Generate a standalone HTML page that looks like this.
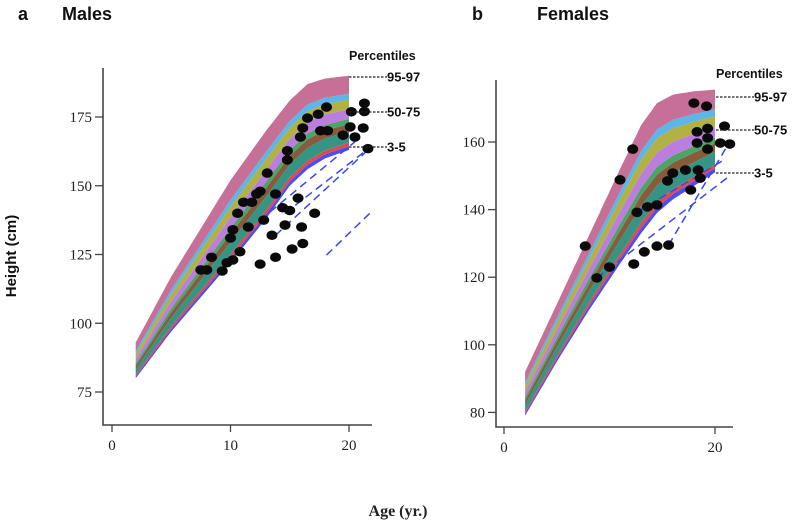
<!DOCTYPE html>
<html><head><meta charset="utf-8"><style>
body{margin:0;background:#fff;width:797px;height:530px;overflow:hidden}
svg{display:block}
.tk{font-family:"Liberation Serif",serif;font-size:15px;fill:#222}
.b{font-family:"Liberation Sans",sans-serif;font-weight:bold;fill:#111}
</style></head><body>
<svg id="chart" width="797" height="530">
<text class="b" x="18" y="20" font-size="18">a</text>
<text class="b" x="62" y="20" font-size="18">Males</text>
<text class="b" x="472" y="20" font-size="18">b</text>
<text class="b" x="537" y="20" font-size="18">Females</text>
<text class="b" x="0" y="0" font-size="15" text-anchor="middle" transform="translate(16,256) rotate(-90)">Height (cm)</text>
<text x="398" y="516" font-family="Liberation Serif,serif" font-weight="bold" font-size="16" text-anchor="middle" fill="#222">Age (yr.)</text>
<g id="pa"></g>
<g id="pb"></g>
</svg>
<script>
// ---- Males data ----
const mAgesCurve=[2,5,8,10,13,15,16.5,18,20];
const mTop=[93,117,138,152,170,181,187,189,190];
const mBottom=[80,97,112,122,138,150,156,160,163];
const mPtAge=[7.5,8,8.4,9.3,9.7,10.2,10.8,10,10.2,10.6,11.1,11.5,11.8,12.2,12.5,13.1,12.8,12.5,13.8,13.8,13.5,14.4,14.6,15,14.8,14.8,15.2,15.7,16,16.1,15.9,16.1,16.5,17.1,17.4,17.6,18.1,18.2,19.5,20.2,20.1,20.5,21.2,21.3,21.3,21.6];
const mPtHeight=[119.4,119.4,124,119,122,123,126,131,134,140,144,135,144,147,148,154.6,137.5,121.5,124,147,132,142,135.7,141,159.4,162.7,127,145.5,135,129,167.7,171,174.6,140,176,170,178.6,170,168.4,176.9,171.4,167.7,171,180,177,163.5];
const mDashA=[[18.1,22],[13.8,21.6],[14.6,21.2],[12.5,20.5]];
const mDashH=[[124.8,141],[132,163],[140,162],[137.5,166]];
const mYTicks=[75,100,125,150,175];
const mXTicks=[0,10,20];
// ---- Females data ----
const fAgesCurve=[2,5,8,11,13,14.5,16,18,20];
const fTop=[92,112,132,152,165,171.5,174,175,175.5];
const fBottom=[79,95,110,124,133,139,143,147,151];
const fPtAge=[7.7,8.8,10,11,12.2,12.3,13.3,14.5,15.6,12.6,13.6,14.5,15.5,16,17.2,17.7,18.4,18.6,18,19.2,18.3,19.3,18.3,19.3,19.3,20.5,21.4,20.9];
const fPtHeight=[129.2,119.8,123,148.8,157.9,123.9,127.5,129.2,129.5,139.2,140.8,141.4,148.5,150.8,151.7,145.8,151.7,149.3,171.5,170.6,163,164,159.7,161.2,157.9,159.7,159.4,164.7];
const fDashA=[[8.8,21.4],[15.6,21],[12.6,21]];
const fDashH=[[119.8,150],[129.5,158],[139.2,155]];
const fYTicks=[80,100,120,140,160];
const fXTicks=[0,20];

const bandFr=[0,0.05,0.1,0.25,0.35,0.42,0.55,0.68,0.76,1];
const bandCol=['#3a3af2','#d63a3a','#1f8a78','#7a4a28','#3a9a58','#b470dc','#a8a832','#4aaee6','#c0608c'];
const NS='http://www.w3.org/2000/svg';
function mk(p,t,a){const e=document.createElementNS(NS,t);for(const k in a)e.setAttribute(k,a[k]);p.appendChild(e);return e;}
function interp(xs,ys,x){for(let i=0;i<xs.length-1;i++){if(x<=xs[i+1]){const t=(x-xs[i])/(xs[i+1]-xs[i]);return ys[i]+t*(ys[i+1]-ys[i]);}}return ys[ys.length-1];}

function panel(g,o){
  const sx=a=>o.x0+(a-0)*o.kx, sy=h=>o.y0-(h-o.h0)*o.ky;
  for(let b=0;b<bandCol.length;b++){
    const up=[],dn=[];
    for(let a=2;a<=20.001;a+=0.25){
      const t=interp(o.ca,o.top,a),bt=interp(o.ca,o.bot,a);
      up.push(sx(a).toFixed(1)+','+sy(bt+(t-bt)*bandFr[b+1]).toFixed(1));
      dn.push(sx(a).toFixed(1)+','+sy(bt+(t-bt)*bandFr[b]).toFixed(1));
    }
    const p=mk(g,'polygon',{points:up.concat(dn.reverse()).join(' '),fill:bandCol[b],opacity:0.9});
    
    
  }
  for(let i=0;i<o.da.length;i++){
    const l=mk(g,'line',{x1:sx(o.da[i][0]),y1:sy(o.dh[i][0]),x2:sx(o.da[i][1]),y2:sy(o.dh[i][1]),stroke:'#3a46f0','stroke-width':1.5,'stroke-dasharray':'8,5'});
    
    
  }
  for(let i=0;i<o.pa.length;i++){
    const c=mk(g,'ellipse',{cx:sx(o.pa[i]),cy:sy(o.ph[i]),rx:5.5,ry:4.8,fill:'#0a0a0a'});
    
    
  }
  const ax=mk(g,'path',{d:`M${o.ax},${o.ytop}V${o.ybase}H${o.xend}`,stroke:'#444','stroke-width':1.6,fill:'none'});
  
  
  for(const v of o.yt){
    mk(g,'line',{x1:o.ax-8,x2:o.ax,y1:sy(v),y2:sy(v),stroke:'#444','stroke-width':1.3});
    const t=mk(g,'text',{x:o.ax-11,y:sy(v)+5,class:'tk','text-anchor':'end'});t.textContent=v;
    
    
  }
  for(const v of o.xt){
    mk(g,'line',{x1:sx(v),x2:sx(v),y1:o.ybase,y2:o.ybase+7,stroke:'#444','stroke-width':1.3});
    const t=mk(g,'text',{x:sx(v),y:o.ybase+25,class:'tk','text-anchor':'middle'});t.textContent=v;
    
    
  }
  const pt=mk(g,'text',{x:o.lx,y:o.ly[0],class:'b','font-size':12.5});pt.textContent='Percentiles';
  
  
  const labs=['95-97','50-75','3-5'];
  for(let i=0;i<3;i++){
    mk(g,'line',{x1:o.lx,x2:o.lx+38,y1:o.ly[i+1],y2:o.ly[i+1],stroke:'#222','stroke-width':1.2,'stroke-dasharray':'2.5,1.5'});
    const t=mk(g,'text',{x:o.lx+38,y:o.ly[i+1]+4.5,class:'b','font-size':13});t.textContent=labs[i];
    
    
  }
}
panel(document.getElementById('pa'),{x0:112,kx:11.85,y0:117,h0:175,ky:2.75,ca:mAgesCurve,top:mTop,bot:mBottom,pa:mPtAge,ph:mPtHeight,da:mDashA,dh:mDashH,yt:mYTicks,xt:mXTicks,ax:103,ytop:68,ybase:425,xend:372,lx:349,ly:[60,77,112,147]});
panel(document.getElementById('pb'),{x0:504,kx:10.55,y0:142,h0:160,ky:3.38,ca:fAgesCurve,top:fTop,bot:fBottom,pa:fPtAge,ph:fPtHeight,da:fDashA,dh:fDashH,yt:fYTicks,xt:fXTicks,ax:496,ytop:80,ybase:427,xend:733,lx:716,ly:[78,97,130,173]});
</script>
</body></html>
